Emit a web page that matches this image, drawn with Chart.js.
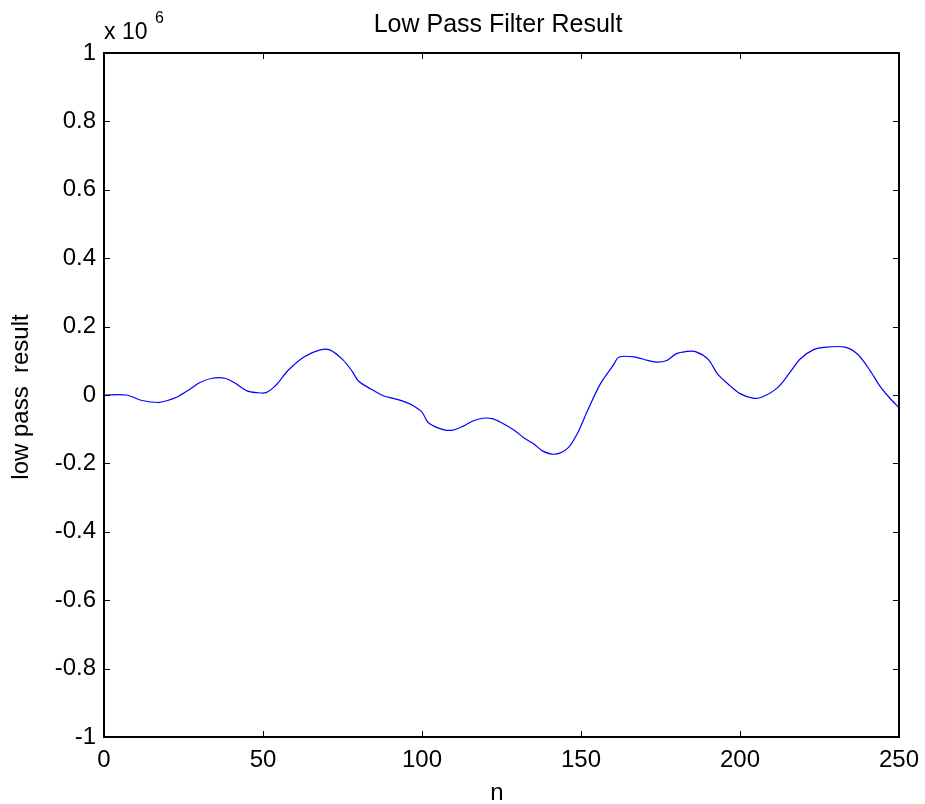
<!DOCTYPE html>
<html>
<head>
<meta charset="utf-8">
<script src="https://cdn.jsdelivr.net/npm/chart.js@4/dist/chart.umd.min.js"></script>
<style>
  html, body { margin: 0; padding: 0; background: #fff; }
  #wrap { width: 925px; height: 804px; position: relative; }
</style>
</head>
<body>
<div id="wrap"><canvas id="lpf-chart"></canvas></div>
<script>
// sample index n and filter output (units of 1e6)
const nValues = [0, 7, 12, 17, 20, 23, 27, 30, 34, 38, 41, 45, 48, 51, 54, 58, 63, 68, 71, 75,
    78, 80, 84, 88, 91, 94, 97, 100, 102, 107, 110, 113, 116, 119, 122, 125, 129, 132, 135, 138,
    142, 146, 149, 152, 156, 160, 162, 167, 171, 174, 177, 180, 183, 186, 190, 193, 197, 200, 204, 207,
    212, 216, 219, 223, 227, 233, 237, 241, 244, 247, 250];
const lowPass = [0, 0, -0.016, -0.022, -0.016, -0.006, 0.017, 0.036, 0.049, 0.049, 0.036, 0.012, 0.007, 0.007, 0.028, 0.073, 0.112, 0.132, 0.132, 0.104,
    0.070, 0.041, 0.017, -0.003, -0.010, -0.018, -0.030, -0.050, -0.081, -0.102, -0.102, -0.091, -0.076, -0.068, -0.069, -0.081, -0.103, -0.125, -0.142, -0.164,
    -0.173, -0.154, -0.110, -0.047, 0.031, 0.085, 0.111, 0.111, 0.101, 0.096, 0.101, 0.121, 0.127, 0.127, 0.104, 0.061, 0.026, 0.004, -0.009, -0.006,
    0.023, 0.070, 0.106, 0.132, 0.140, 0.140, 0.119, 0.070, 0.026, -0.008, -0.037];
const xTicks = [0, 50, 100, 150, 200, 250];
const yTicks = [-1, -0.8, -0.6, -0.4, -0.2, 0, 0.2, 0.4, 0.6, 0.8, 1];

const FONT = 'Arial, "Liberation Sans", sans-serif';

// frame, inward ticks on all four sides, title, axis labels and exponent
const matlabAxes = {
    id: 'matlabAxes',
    afterDraw(chart) {
        const ctx = chart.ctx;
        const a = chart.chartArea;
        const xs = chart.scales.x, ys = chart.scales.y;
        ctx.save();
        ctx.strokeStyle = '#000';
        ctx.lineWidth = 1;
        ctx.beginPath();
        xTicks.forEach(v => {
            const px = Math.round(xs.getPixelForValue(v)) + 0.5;
            ctx.moveTo(px, a.bottom); ctx.lineTo(px, a.bottom - 6);
            ctx.moveTo(px, a.top); ctx.lineTo(px, a.top + 6);
        });
        yTicks.forEach(v => {
            const py = Math.round(ys.getPixelForValue(v)) + 0.5;
            ctx.moveTo(a.left, py); ctx.lineTo(a.left + 6, py);
            ctx.moveTo(a.right, py); ctx.lineTo(a.right - 6, py);
        });
        ctx.stroke();
        ctx.lineWidth = 2;
        ctx.strokeRect(a.left, a.top, a.right - a.left, a.bottom - a.top);

        ctx.fillStyle = '#000';
        ctx.textBaseline = 'alphabetic';
        ctx.textAlign = 'center';
        ctx.font = '25px ' + FONT;
        ctx.fillText('Low Pass Filter Result', 498, 32);
        ctx.font = '24px ' + FONT;
        ctx.fillText('n', 497, 800);
        ctx.save();
        ctx.translate(28, 397);
        ctx.rotate(-Math.PI / 2);
        ctx.font = '24px ' + FONT;
        ctx.fillText('low pass  result', 0, 0);
        ctx.restore();
        ctx.textAlign = 'left';
        ctx.font = '23px ' + FONT;
        ctx.fillText('x 10', 104, 39);
        ctx.font = '16px ' + FONT;
        ctx.fillText('6', 155, 23);
        ctx.restore();
    }
};

new Chart(document.getElementById('lpf-chart'), {
    type: 'line',
    data: {
        datasets: [{
            label: 'low pass result',
            data: nValues.map((n, i) => ({ x: n, y: lowPass[i] })),
            borderColor: '#0000ff',
            borderWidth: 1.2,
            pointRadius: 0,
            tension: 0.3,
            fill: false
        }]
    },
    options: {
        responsive: true,
        maintainAspectRatio: false,
        animation: false,
        layout: { padding: { top: 53, right: 26, left: 0, bottom: 0 } },
        scales: {
            x: {
                type: 'linear',
                min: 0,
                max: 250,
                afterFit: s => { s.height = 67; s.paddingRight = 0; s.paddingLeft = 0; },
                afterBuildTicks: s => { s.ticks = xTicks.map(v => ({ value: v })); },
                grid: { display: false, drawTicks: false },
                border: { display: false },
                ticks: { color: '#000', padding: 9, maxRotation: 0, font: { family: FONT, size: 24 } }
            },
            y: {
                min: -1,
                max: 1,
                afterFit: s => { s.width = 104; s.paddingTop = 0; s.paddingBottom = 0; },
                afterBuildTicks: s => { s.ticks = yTicks.map(v => ({ value: v })); },
                grid: { display: false, drawTicks: false },
                border: { display: false },
                ticks: {
                    color: '#000', padding: 8, font: { family: FONT, size: 24 },
                    callback: v => String(Math.round(v * 10) / 10)
                }
            }
        },
        plugins: {
            legend: { display: false },
            tooltip: { enabled: false }
        }
    },
    plugins: [matlabAxes]
});
</script>
</body>
</html>
